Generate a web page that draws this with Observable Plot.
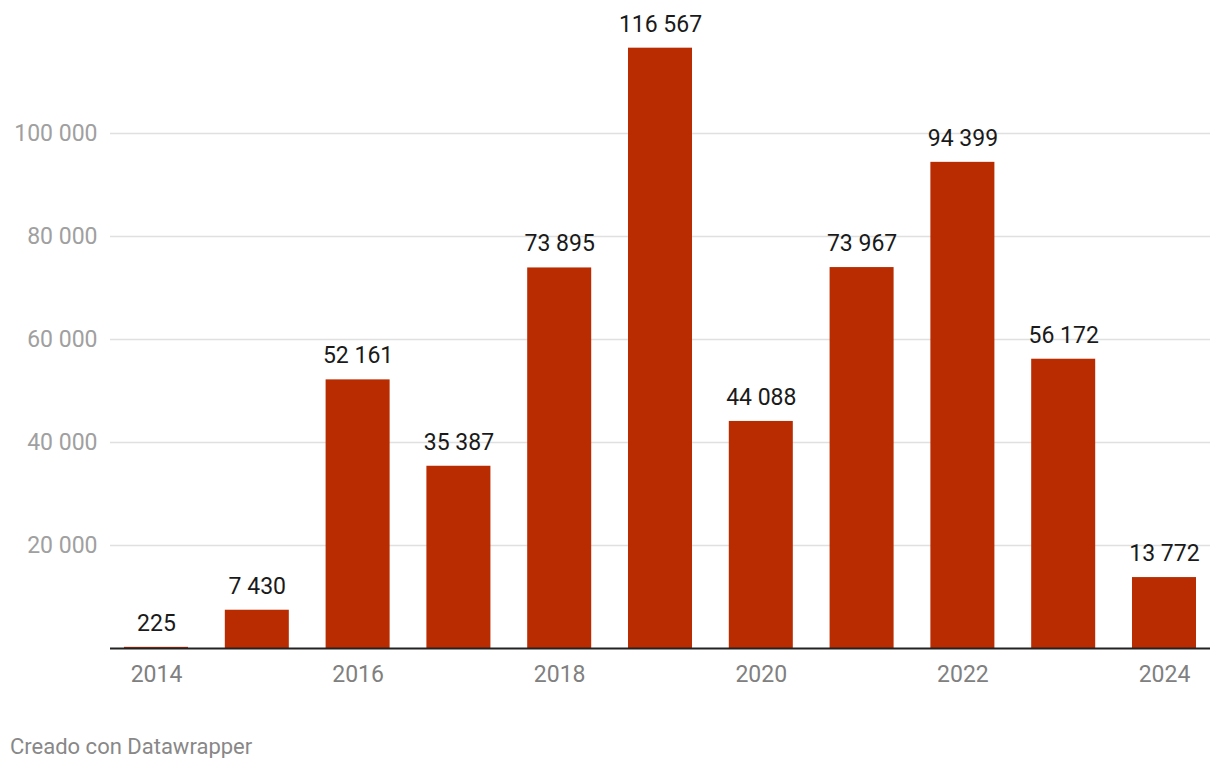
<!DOCTYPE html>
<html>
<head>
<meta charset="utf-8">
<script src="https://cdn.jsdelivr.net/npm/d3@7"></script>
<script src="https://cdn.jsdelivr.net/npm/@observablehq/plot@0.6"></script>
<style>
  html, body { margin: 0; padding: 0; background: #fff; }
  body { font-family: Roboto, "Noto Sans", sans-serif; width: 1220px; }
  #footer { font-family: Roboto, sans-serif; font-size: 22px; color: #888; margin: 36px 0 0 10px; line-height: 1; }
</style>
</head>
<body>
<div id="chart"></div>
<div id="footer">Creado con Datawrapper</div>
<script>
const years = [2014, 2015, 2016, 2017, 2018, 2019, 2020, 2021, 2022, 2023, 2024];
const values = [225, 7430, 52161, 35387, 73895, 116567, 44088, 73967, 94399, 56172, 13772];
const yTicks = [20000, 40000, 60000, 80000, 100000];
const xTickYears = [2014, 2016, 2018, 2020, 2022, 2024];

const data = years.map((y, i) => ({year: y, value: values[i]}));
const fmt = d3.formatLocale({thousands: " ", grouping: [3], decimal: ","}).format(",");

const plot = Plot.plot({
  width: 1220,
  height: 700,
  marginLeft: 110,
  marginRight: 10,
  marginTop: 30,
  marginBottom: 52,
  style: {fontFamily: "Roboto, sans-serif", fontSize: "23px", background: "#fff"},
  x: {domain: years, paddingInner: 0.365, paddingOuter: 0.139, round: false, label: null},
  y: {domain: [0, 120000], label: null},
  marks: [
    Plot.gridY(yTicks, {stroke: "#e0e0e0", strokeOpacity: 1, strokeWidth: 1.3}),
    Plot.axisY(yTicks, {tickSize: 0, tickPadding: 13, tickFormat: fmt, fill: "#a0a0a0", fontSize: 23, label: null}),
    Plot.axisX(xTickYears, {tickSize: 0, tickPadding: 17, tickFormat: d => String(d), fill: "#808080", fontSize: 23, label: null}),
    Plot.barY(data, {x: "year", y: "value", fill: "#b92b00"}),
    Plot.ruleY([0], {stroke: "#222", strokeWidth: 2}),
    Plot.text(data, {x: "year", y: "value", text: d => fmt(d.value), dy: -24, fill: "#1a1a1a", fontSize: 23})
  ]
});
document.getElementById("chart").appendChild(plot);
</script>
</body>
</html>
